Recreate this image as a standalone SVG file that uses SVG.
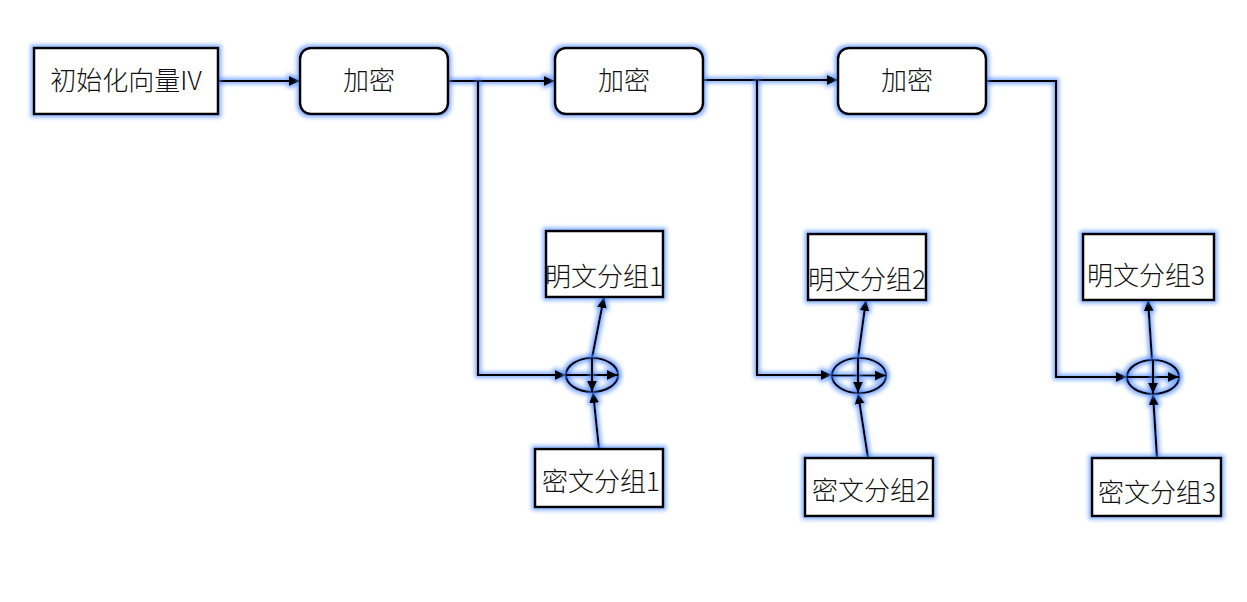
<svg xmlns="http://www.w3.org/2000/svg" width="1247" height="602" viewBox="0 0 1247 602">
<defs>
<filter id="glow" filterUnits="userSpaceOnUse" x="0" y="0" width="1247" height="602">
<feMorphology in="SourceAlpha" operator="dilate" radius="1.5" result="d"/>
<feGaussianBlur in="d" stdDeviation="2.2" result="b"/>
<feFlood flood-color="#4d88ff" flood-opacity="0.7"/>
<feComposite in2="b" operator="in" result="g"/>
<feMerge><feMergeNode in="g"/><feMergeNode in="SourceGraphic"/></feMerge>
</filter>
<marker id="arr" markerUnits="userSpaceOnUse" markerWidth="12" markerHeight="10" refX="11" refY="5" orient="auto">
<path d="M0,0 L11,5 L0,10 z" fill="#000"/>
</marker>
</defs>
<style>
.box{fill:#fff;stroke:#000;stroke-width:2.5;filter:url(#glow)}
.ln{fill:none;stroke:#000;stroke-width:2.2;filter:url(#glow)}
.ar{marker-end:url(#arr)}
.t{font-family:"Noto Sans CJK SC","Noto Sans",sans-serif;font-size:26px;fill:#111;text-anchor:middle;font-weight:300}
</style>
<rect width="1247" height="602" fill="#fff"/>
<g id="connectors">
<path class="ln ar" d="M218,81 H300"/>
<path class="ln ar" d="M448,81 H555"/>
<path class="ln ar" d="M478,81 V375 H566"/>
<path class="ln ar" d="M703,80 H838"/>
<path class="ln ar" d="M757,80 V375 H832"/>
<path class="ln ar" d="M986,81 H1056 V377 H1127"/>
<path class="ln ar" d="M592,358 L604,297"/>
<path class="ln ar" d="M599,449 L593,392"/>
<path class="ln ar" d="M858,358 L866,300"/>
<path class="ln ar" d="M868,458 L858,393"/>
<path class="ln ar" d="M1152,360 L1148,300"/>
<path class="ln ar" d="M1157,458 L1153,394"/>
</g>
<g id="iv"><rect class="box" x="34" y="48" width="184" height="66"/><text class="t" x="126" y="90">初始化向量IV</text></g>
<g id="enc1"><rect class="box" x="300" y="48" width="148" height="66" rx="11"/><text class="t" x="369" y="90">加密</text></g>
<g id="enc2"><rect class="box" x="555" y="48" width="148" height="66" rx="11"/><text class="t" x="624" y="90">加密</text></g>
<g id="enc3"><rect class="box" x="838" y="48" width="148" height="66" rx="11"/><text class="t" x="907" y="90">加密</text></g>
<g id="xor1"><ellipse class="ln" cx="592" cy="375" rx="26" ry="17"/><path class="ln ar" d="M566,375 H618"/><path class="ln ar" d="M592,358 V392"/></g>
<g id="xor2"><ellipse class="ln" cx="859" cy="375.5" rx="27" ry="17.5"/><path class="ln ar" d="M832,375.5 H886"/><path class="ln ar" d="M858,358 V393"/></g>
<g id="xor3"><ellipse class="ln" cx="1153" cy="377" rx="26" ry="17"/><path class="ln ar" d="M1127,377 H1179"/><path class="ln ar" d="M1153,360 V394"/></g>
<g id="p1"><rect class="box" x="546" y="231" width="117" height="66"/><text class="t" x="604" y="286">明文分组1</text></g>
<g id="c1"><rect class="box" x="535" y="449" width="128" height="58"/><text class="t" x="601" y="491">密文分组1</text></g>
<g id="p2"><rect class="box" x="808" y="234" width="118" height="66"/><text class="t" x="867" y="289">明文分组2</text></g>
<g id="c2"><rect class="box" x="805" y="458" width="128" height="58"/><text class="t" x="871" y="500">密文分组2</text></g>
<g id="p3"><rect class="box" x="1083" y="234" width="131" height="66"/><text class="t" x="1146" y="285">明文分组3</text></g>
<g id="c3"><rect class="box" x="1092" y="458" width="129" height="58"/><text class="t" x="1157" y="502">密文分组3</text></g>
</svg>
